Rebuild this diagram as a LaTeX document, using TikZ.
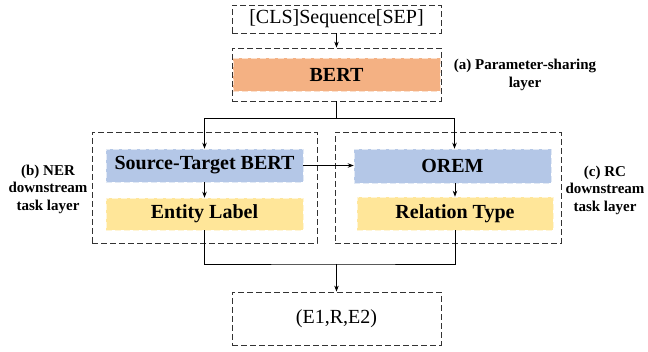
\documentclass[tikz,border=0pt]{standalone}
\usepackage{fontspec}
\setmainfont{Liberation Serif}
\usetikzlibrary{arrows.meta}
\definecolor{bertc}{HTML}{F4B183}
\definecolor{bluec}{HTML}{B4C7E7}
\definecolor{yelc}{HTML}{FFE699}
\tikzset{
  dbox/.style={draw=black!80, line width=0.8pt, dash pattern=on 6pt off 3pt, inner sep=0pt},
  fbox/.style={line width=0.6pt, dash pattern=on 6pt off 3pt, inner sep=0pt, font=\bfseries\fontsize{20}{24}\selectfont},
  conn/.style={draw=black, line width=0.8pt},
  arr/.style={conn, -{Stealth[length=6pt,width=4.5pt]}},
  side/.style={align=center, font=\bfseries\fontsize{15}{17.5}\selectfont, inner sep=0pt}
}
\begin{document}
\begin{tikzpicture}[x=1pt,y=-1pt]
\useasboundingbox (0,0) rectangle (648,352);
% boxes
\node[dbox, minimum width=209pt, minimum height=28pt, font=\fontsize{20}{24}\selectfont] (top) at (336.5,19) {[CLS]Sequence[SEP]};
\node[dbox, minimum width=209pt, minimum height=53pt] (bertouter) at (336.5,74.5) {};
\node[fbox, fill=bertc, draw=white!60!bertc, minimum width=207pt, minimum height=33pt] (bert) at (336.5,74.5) {BERT};
\node[dbox, minimum width=225pt, minimum height=111pt] (ner) at (204.5,187.5) {};
\node[fbox, fill=bluec, draw=white!60!bluec, minimum width=197pt, minimum height=33pt] (stb) at (204.5,165.5) {Source-Target BERT};
\node[fbox, fill=yelc, draw=white!60!yelc, minimum width=197pt, minimum height=32pt] (ent) at (204.5,214) {Entity Label};
\node[dbox, minimum width=226pt, minimum height=111pt] (rc) at (448,187.5) {};
\node[fbox, fill=bluec, draw=white!60!bluec, minimum width=197pt, minimum height=34pt] (orem) at (452.5,166) {OREM};
\node[fbox, fill=yelc, draw=white!60!yelc, minimum width=196pt, minimum height=33pt] (rel) at (455,213.5) {Relation Type};
\node[dbox, minimum width=209pt, minimum height=53pt, font=\fontsize{20}{24}\selectfont] (out) at (336.5,318.5) {(E1,R,E2)};
% side labels
\node[side] (la) at (525,75) {(a) Parameter-sharing\\layer};
\node[side] (lb) at (48,189) {(b) NER\\downstream\\task layer};
\node[side] (lc) at (605,190) {(c) RC\\downstream\\task layer};
% connectors
\coordinate (split) at (336.5,118);
\coordinate (join) at (336.5,264);
\draw[arr] (top.south) -- (bertouter.north);
\draw[conn] (bertouter.south) -- (split);
\draw[arr] (split) -| (stb.north);
\draw[arr] (split) -| ([xshift=2pt]orem.north);
\draw[arr] (stb.east) -- (stb.east -| orem.west);
\draw[arr] (stb.south) -- (ent.north);
\draw[arr] (rel.north |- orem.south) -- (rel.north);
\draw[conn] (ent.south) |- (join) -| (rel.south);
\draw[arr] (join) -- (out.north);
\end{tikzpicture}
\end{document}
